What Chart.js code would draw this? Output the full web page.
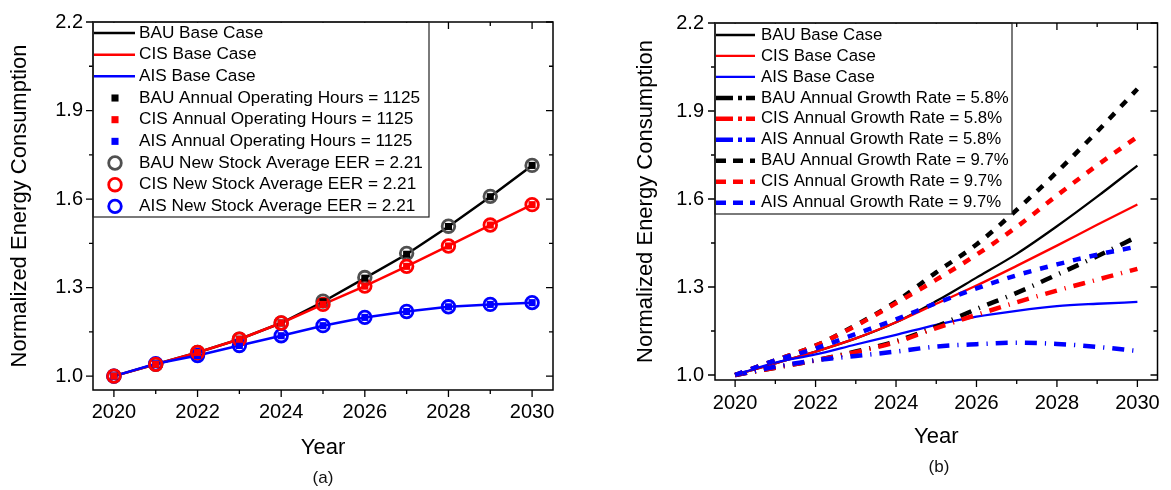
<!DOCTYPE html>
<html>
<head>
<meta charset="utf-8">
<script src="https://cdn.jsdelivr.net/npm/chart.js@4/dist/chart.umd.min.js"></script>
<style>
  html, body { margin: 0; padding: 0; background: #fff; }
  #wrap { position: relative; width: 1171px; height: 490px; overflow: hidden; background: #fff; }
  .panel { position: absolute; top: 0; height: 490px; }
  #pa { left: 0; width: 580px; }
  #pb { left: 590px; width: 581px; }
  .cap { position: absolute; font-family: "Liberation Sans", Arial, sans-serif; font-size: 17px; color: #111;
         transform: translateX(-50%); line-height: 20px; }
</style>
</head>
<body>
<div id="wrap">
  <div class="panel" id="pa"><canvas id="ca"></canvas></div>
  <div class="panel" id="pb"><canvas id="cb"></canvas></div>
  <div class="cap" style="left:323px; top:468px;">(a)</div>
  <div class="cap" style="left:939px; top:457px;">(b)</div>
</div>
<script>
const FONT = '"Liberation Sans", Arial, sans-serif';
Chart.defaults.font.family = FONT;
Chart.defaults.color = '#000';
Chart.defaults.animation = false;

// ---- data ----
const years = [2020, 2021, 2022, 2023, 2024, 2025, 2026, 2027, 2028, 2029, 2030];
const yearTicks = [2020, 2022, 2024, 2026, 2028, 2030];
const yTicks = [1.0, 1.3, 1.6, 1.9, 2.2];
const yMinorTicks = [1.15, 1.45, 1.75, 2.05];

const bauBase = [1.000, 1.040, 1.080, 1.125, 1.180, 1.252, 1.332, 1.413, 1.507, 1.608, 1.714];
const cisBase = [1.000, 1.040, 1.080, 1.125, 1.180, 1.243, 1.305, 1.372, 1.441, 1.512, 1.581];
const aisBase = [1.000, 1.042, 1.070, 1.104, 1.137, 1.171, 1.199, 1.219, 1.235, 1.243, 1.249];

const bauHours = [1.000, 1.040, 1.080, 1.125, 1.180, 1.252, 1.332, 1.413, 1.507, 1.608, 1.714];
const cisHours = [1.000, 1.040, 1.080, 1.125, 1.180, 1.243, 1.305, 1.372, 1.441, 1.512, 1.581];
const aisHours = [1.000, 1.042, 1.070, 1.104, 1.137, 1.171, 1.199, 1.219, 1.235, 1.243, 1.249];

const bauEER = [1.000, 1.040, 1.080, 1.125, 1.180, 1.254, 1.334, 1.416, 1.508, 1.609, 1.714];
const cisEER = [1.000, 1.040, 1.080, 1.125, 1.180, 1.243, 1.305, 1.372, 1.441, 1.512, 1.581];
const aisEER = [1.000, 1.042, 1.070, 1.104, 1.137, 1.171, 1.199, 1.219, 1.235, 1.243, 1.249];

const bauGrowth58 = [1.000, 1.025, 1.050, 1.080, 1.115, 1.165, 1.225, 1.280, 1.342, 1.405, 1.472];
const cisGrowth58 = [1.000, 1.025, 1.050, 1.078, 1.112, 1.160, 1.205, 1.248, 1.288, 1.325, 1.362];
const aisGrowth58 = [1.000, 1.028, 1.050, 1.065, 1.080, 1.097, 1.105, 1.110, 1.106, 1.096, 1.082];

const bauGrowth97 = [1.000, 1.050, 1.100, 1.170, 1.250, 1.350, 1.445, 1.563, 1.692, 1.830, 1.975];
const cisGrowth97 = [1.000, 1.050, 1.100, 1.168, 1.245, 1.325, 1.410, 1.505, 1.612, 1.715, 1.812];
const aisGrowth97 = [1.000, 1.050, 1.090, 1.140, 1.190, 1.245, 1.295, 1.340, 1.377, 1.410, 1.438];

const BLACK = '#000000', RED = '#ff0000', BLUE = '#0000ff', GREY = '#505050';
const pts = arr => years.map((x, i) => ({ x, y: arr[i] }));

// ---- frame with inward/outward tick marks ----
const frameTicks = {
  id: 'frameTicks',
  afterDatasetsDraw(chart) {
    const { ctx, chartArea: a, scales: { x, y } } = chart;
    ctx.save();
    ctx.strokeStyle = '#000';
    ctx.lineWidth = 1.5;
    ctx.strokeRect(a.left, a.top, a.right - a.left, a.bottom - a.top);
    ctx.lineWidth = 1.3;
    ctx.beginPath();
    const seg = (x0, y0, x1, y1) => { ctx.moveTo(x0, y0); ctx.lineTo(x1, y1); };
    years.forEach(v => {
      const px = x.getPixelForValue(v);
      const L = yearTicks.includes(v) ? 7 : 4;
      seg(px, a.bottom, px, a.bottom + L);
      seg(px, a.top, px, a.top + L);
    });
    const yt = (v, L) => {
      const py = y.getPixelForValue(v);
      seg(a.left - L, py, a.left, py);
      seg(a.right - L, py, a.right, py);
    };
    yTicks.forEach(v => yt(v, 7));
    yMinorTicks.forEach(v => yt(v, 4));
    ctx.stroke();
    ctx.restore();
  }
};

// ---- legend drawn inside the plot's upper-left corner ----
const insetLegend = {
  id: 'insetLegend',
  afterDraw(chart, args, o) {
    const { ctx, chartArea: a } = chart;
    const ds = chart.data.datasets;
    ctx.save();
    ctx.fillStyle = '#fff';
    ctx.fillRect(a.left + 1, a.top + 1, o.w - 1, o.h - 1);
    ctx.strokeStyle = '#222';
    ctx.lineWidth = 1.2;
    ctx.strokeRect(a.left, a.top, o.w, o.h);
    ctx.font = o.fontSize + 'px ' + FONT;
    ctx.textBaseline = 'middle';
    o.entries.forEach((idx, row) => {
      const d = ds[idx];
      const y = a.top + o.firstRow + row * o.rowGap;
      if (d.showLine !== false) {
        ctx.save();
        ctx.strokeStyle = d.borderColor;
        ctx.lineWidth = d.borderWidth;
        ctx.setLineDash(d.legendDash || d.borderDash || []);
        ctx.beginPath();
        ctx.moveTo(a.left + 1, y);
        ctx.lineTo(a.left + o.sampleW, y);
        ctx.stroke();
        ctx.restore();
      } else {
        const cx = a.left + o.markerX;
        if (d.pointStyle === 'rect') {
          const s = d.pointRadius * Math.SQRT2;
          ctx.fillStyle = d.pointBackgroundColor;
          ctx.fillRect(cx - s / 2, y - s / 2, s, s);
        } else {
          ctx.strokeStyle = d.pointBorderColor;
          ctx.lineWidth = d.pointBorderWidth;
          ctx.beginPath();
          ctx.arc(cx, y, d.pointRadius, 0, Math.PI * 2);
          ctx.stroke();
        }
      }
      ctx.fillStyle = '#000';
      ctx.fillText(d.label, a.left + o.textX, y);
    });
    ctx.restore();
  }
};

function axes(opts) {
  return {
    x: {
      type: 'linear', min: 2019.5, max: 2030.5,
      grid: { display: false, drawTicks: false }, border: { display: false },
      afterBuildTicks: s => { s.ticks = yearTicks.map(v => ({ value: v })); },
      afterFit: s => { s.height = opts.xHeight; },
      ticks: { font: { size: 20 }, color: '#000', padding: opts.xPad, autoSkip: false, maxRotation: 0,
               callback: v => String(v) },
      title: { display: true, text: 'Year', font: { size: 22 }, color: '#000',
               padding: { top: 0, bottom: opts.xTitlePad } }
    },
    y: {
      type: 'linear', min: opts.yMin, max: 2.2,
      grid: { display: false, drawTicks: false }, border: { display: false },
      afterBuildTicks: s => { s.ticks = yTicks.map(v => ({ value: v })); },
      afterFit: s => { s.width = opts.yWidth; },
      ticks: { font: { size: 20 }, color: '#000', padding: opts.yPad, autoSkip: false,
               callback: v => Number(v).toFixed(1) },
      title: { display: true, text: 'Normalized Energy Consumption', font: { size: 22 }, color: '#000',
               padding: { top: opts.yTitlePad, bottom: 0 } }
    }
  };
}

// ---- panel (a): base cases with marker series ----
const lineDs = (label, arr, color, order) => ({
  label, data: pts(arr), borderColor: color, backgroundColor: color, borderWidth: 2.5,
  pointRadius: 0, showLine: true, fill: false, tension: 0, order
});
const squareDs = (label, arr, color, order) => ({
  label, data: pts(arr), showLine: false, pointStyle: 'rect', pointRadius: 5,
  pointBackgroundColor: color, pointBorderColor: color, pointBorderWidth: 0, order
});
const circleDs = (label, arr, color, order) => ({
  label, data: pts(arr), showLine: false, pointStyle: 'circle', pointRadius: 6.3,
  pointBackgroundColor: 'rgba(0,0,0,0)', pointBorderColor: color, pointBorderWidth: 2.8, order
});

new Chart(document.getElementById('ca'), {
  type: 'scatter',
  data: {
    datasets: [
      lineDs('BAU Base Case', bauBase, BLACK, 9),
      lineDs('CIS Base Case', cisBase, RED, 8),
      lineDs('AIS Base Case', aisBase, BLUE, 7),
      squareDs('BAU Annual Operating Hours = 1125', bauHours, BLACK, 3),
      squareDs('CIS Annual Operating Hours = 1125', cisHours, RED, 1),
      squareDs('AIS Annual Operating Hours = 1125', aisHours, BLUE, 2),
      circleDs('BAU New Stock Average EER = 2.21', bauEER, GREY, 6),
      circleDs('CIS New Stock Average EER = 2.21', cisEER, RED, 4),
      circleDs('AIS New Stock Average EER = 2.21', aisEER, BLUE, 5)
    ]
  },
  options: {
    responsive: true, maintainAspectRatio: false,
    layout: { padding: { top: 19, right: 27, left: 0, bottom: 0 } },
    plugins: {
      legend: { display: false }, tooltip: { enabled: false },
      insetLegend: { w: 336, h: 195, firstRow: 11, rowGap: 21.67, sampleW: 42, markerX: 22, textX: 46,
                     fontSize: 17.2, entries: [0, 1, 2, 3, 4, 5, 6, 7, 8] }
    },
    scales: axes({ xHeight: 100, xPad: 10, xTitlePad: 29, yMin: 0.953, yWidth: 93, yPad: 10, yTitlePad: 7 })
  },
  plugins: [frameTicks, insetLegend]
});

// ---- panel (b): growth-rate sensitivity ----
const curveDs = (label, arr, color, width, dash, legendDash, order) => ({
  label, data: pts(arr), borderColor: color, backgroundColor: color, borderWidth: width,
  borderDash: dash, legendDash, borderCapStyle: 'butt', pointRadius: 0, showLine: true, fill: false,
  cubicInterpolationMode: 'monotone', order
});
const DASHDOT = [12, 8, 1.2, 8];
const DASHDOT_KEY = [17, 5, 4, 4];
const DASH = [8, 9];
const DASH_KEY = [10, 7];

new Chart(document.getElementById('cb'), {
  type: 'scatter',
  data: {
    datasets: [
      curveDs('BAU Base Case', bauBase, BLACK, 2.3, [], [], 9),
      curveDs('CIS Base Case', cisBase, RED, 2.3, [], [], 8),
      curveDs('AIS Base Case', aisBase, BLUE, 2.3, [], [], 7),
      curveDs('BAU Annual Growth Rate = 5.8%', bauGrowth58, BLACK, 4.5, DASHDOT, DASHDOT_KEY, 6),
      curveDs('CIS Annual Growth Rate = 5.8%', cisGrowth58, RED, 4.5, DASHDOT, DASHDOT_KEY, 5),
      curveDs('AIS Annual Growth Rate = 5.8%', aisGrowth58, BLUE, 4.5, DASHDOT, DASHDOT_KEY, 4),
      curveDs('BAU Annual Growth Rate = 9.7%', bauGrowth97, BLACK, 4.5, DASH, DASH_KEY, 3),
      curveDs('CIS Annual Growth Rate = 9.7%', cisGrowth97, RED, 4.5, DASH, DASH_KEY, 2),
      curveDs('AIS Annual Growth Rate = 9.7%', aisGrowth97, BLUE, 4.5, DASH, DASH_KEY, 1)
    ]
  },
  options: {
    responsive: true, maintainAspectRatio: false,
    layout: { padding: { top: 18, right: 8, left: 0, bottom: 0 } },
    plugins: {
      legend: { display: false }, tooltip: { enabled: false },
      insetLegend: { w: 297, h: 191, firstRow: 12, rowGap: 20.96, sampleW: 40, markerX: 20, textX: 46,
                     fontSize: 16.8, entries: [0, 1, 2, 3, 4, 5, 6, 7, 8] }
    },
    scales: axes({ xHeight: 110, xPad: 11, xTitlePad: 40, yMin: 0.983, yWidth: 125, yPad: 11, yTitlePad: 43 })
  },
  plugins: [frameTicks, insetLegend]
});
</script>
</body>
</html>
